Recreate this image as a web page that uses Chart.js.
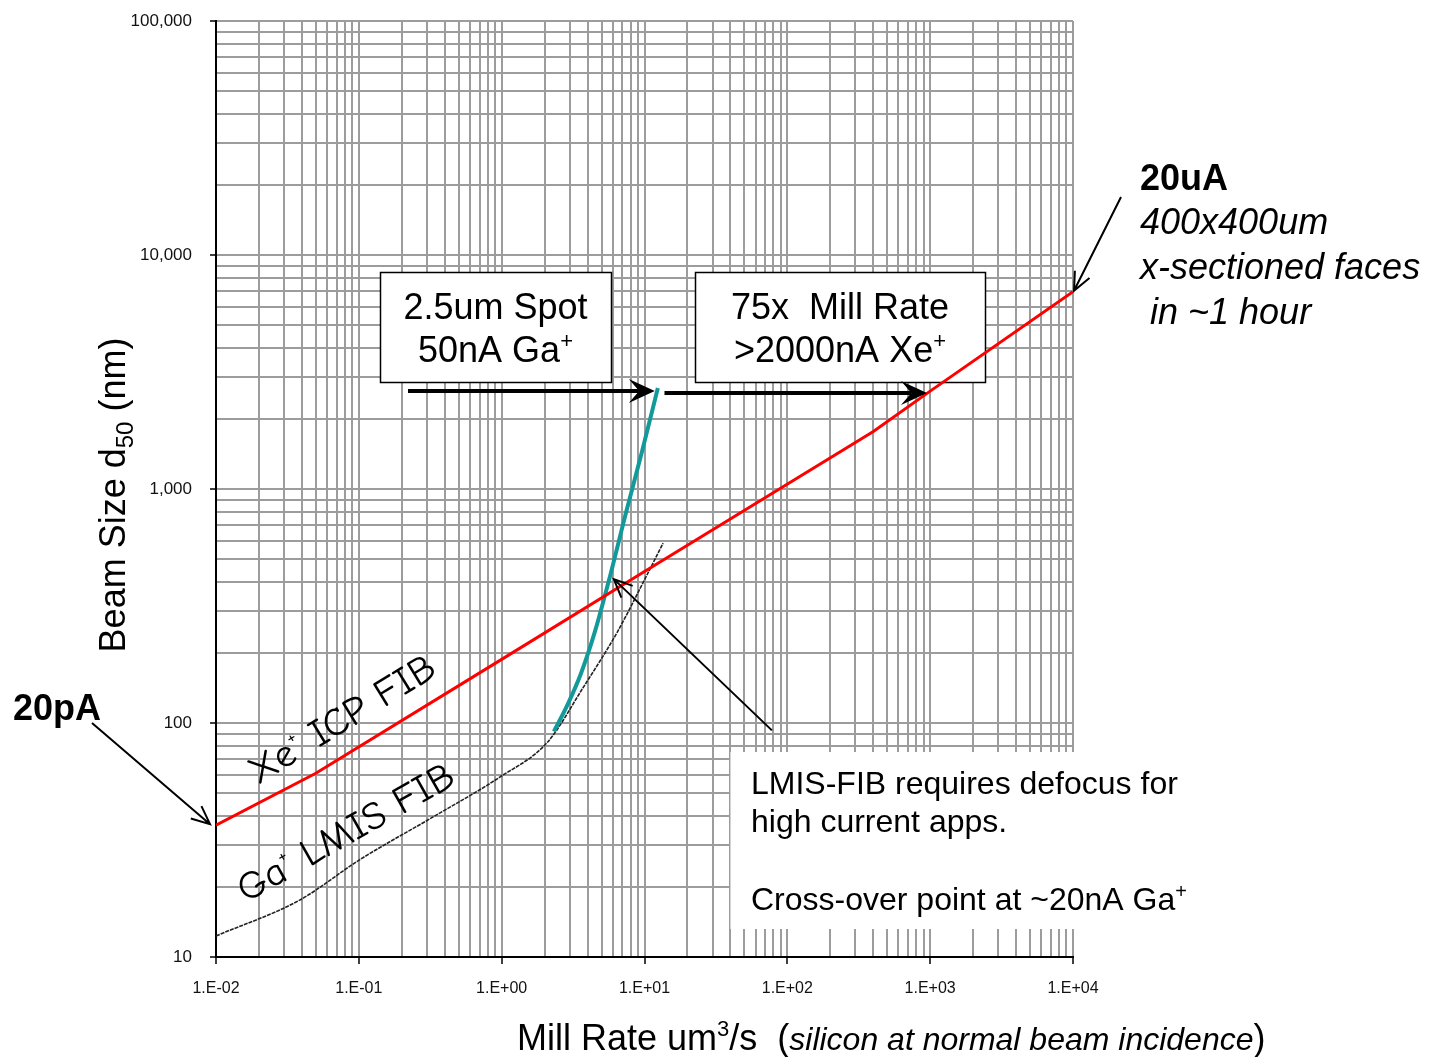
<!DOCTYPE html>
<html>
<head>
<meta charset="utf-8">
<script src="https://cdn.jsdelivr.net/npm/chart.js@4.4.1/dist/chart.umd.min.js"></script>
<style>
  html, body { margin: 0; padding: 0; background: #fff; }
</style>
</head>
<body>
<canvas id="millChart" width="1435" height="1057"></canvas>
<script>
// values
const xeMillRate = [0.01, 0.05, 1, 10, 400, 1000, 10000];
const xeBeamSize = [36.6, 61, 187, 444, 1760, 2620, 6970];

const gaSpotMillRate = [2.32, 2.86, 3.58, 4.49, 5.72, 7.41, 9.59, 12.4];
const gaSpotBeamSize = [92, 118, 162, 245, 421, 790, 1440, 2700];

const gaMillRate = [0.01, 0.0385, 0.101, 0.329, 0.97, 2.1, 3.7, 6.41, 10.4, 13.5];
const gaBeamSize = [12.3, 17.5, 26, 39.6, 58.7, 83, 141, 243, 429, 587];

const xTickLabels = ['1.E-02', '1.E-01', '1.E+00', '1.E+01', '1.E+02', '1.E+03', '1.E+04'];
const yTickLabels = ['10', '100', '1,000', '10,000', '100,000'];

const SANS = 'Arial, "Liberation Sans", sans-serif';
const HAND = '"Comic Sans MS", "Comic Neue", "DejaVu Sans", sans-serif';

const toPoints = (xs, ys) => xs.map((x, i) => ({ x: x, y: ys[i] }));

// 1..9 x 10^n ticks so every decade gets its minor grid lines
function logTicks(minExp, maxExp) {
  const t = [];
  for (let e = minExp; e < maxExp; e++) {
    for (let m = 1; m < 10; m++) t.push({ value: m * Math.pow(10, e), major: m === 1 });
  }
  t.push({ value: Math.pow(10, maxExp), major: true });
  return t;
}

function richWidth(ctx, parts) {
  let w = 0;
  parts.forEach(p => { ctx.font = p.font; w += ctx.measureText(p.t).width; });
  return w;
}
function richText(ctx, parts, x, y) {
  let cx = x;
  parts.forEach(p => {
    ctx.font = p.font;
    ctx.fillText(p.t, cx, y + (p.dy || 0));
    cx += ctx.measureText(p.t).width;
  });
}

// thick arrow with a notched filled head
function boldArrow(ctx, x1, y1, x2, y2) {
  const a = Math.atan2(y2 - y1, x2 - x1);
  const L = 26, W = 12;
  ctx.save();
  ctx.translate(x2, y2);
  ctx.rotate(a);
  ctx.fillStyle = '#000';
  ctx.strokeStyle = '#000';
  ctx.lineWidth = 4;
  const len = Math.hypot(x2 - x1, y2 - y1);
  ctx.beginPath();
  ctx.moveTo(-len, 0);
  ctx.lineTo(-L * 0.6, 0);
  ctx.stroke();
  ctx.beginPath();
  ctx.moveTo(0, 0);
  ctx.lineTo(-L, -W);
  ctx.lineTo(-L * 0.6, 0);
  ctx.lineTo(-L, W);
  ctx.closePath();
  ctx.fill();
  ctx.restore();
}

// thin arrow with an open V head
function thinArrow(ctx, x1, y1, x2, y2) {
  const a = Math.atan2(y2 - y1, x2 - x1);
  const L = 20, spread = 0.42;
  ctx.save();
  ctx.strokeStyle = '#000';
  ctx.lineWidth = 2;
  ctx.beginPath();
  ctx.moveTo(x1, y1);
  ctx.lineTo(x2, y2);
  ctx.moveTo(x2 - L * Math.cos(a - spread), y2 - L * Math.sin(a - spread));
  ctx.lineTo(x2, y2);
  ctx.lineTo(x2 - L * Math.cos(a + spread), y2 - L * Math.sin(a + spread));
  ctx.stroke();
  ctx.restore();
}

function slantLabel(ctx, x, y, deg, len, head, rest) {
  const size = 39;
  const parts = [
    { t: head, font: size + 'px ' + HAND },
    { t: '+', font: Math.round(size * 0.5) + 'px ' + HAND, dy: -size * 0.45 },
    { t: rest, font: size + 'px ' + HAND }
  ];
  ctx.save();
  ctx.fillStyle = '#000';
  ctx.textBaseline = 'alphabetic';
  ctx.translate(x, y);
  ctx.rotate(-deg * Math.PI / 180);
  const w = richWidth(ctx, parts);
  ctx.scale(len / w, 1);
  richText(ctx, parts, 0, 0);
  ctx.restore();
}

function boxWithText(ctx, x, y, w, h, lines) {
  ctx.save();
  ctx.fillStyle = '#fff';
  ctx.fillRect(x, y, w, h);
  ctx.strokeStyle = '#000';
  ctx.lineWidth = 1.5;
  ctx.strokeRect(x + 0.5, y + 0.5, w, h);
  ctx.fillStyle = '#000';
  ctx.textBaseline = 'alphabetic';
  lines.forEach(l => {
    const tw = richWidth(ctx, l.parts);
    richText(ctx, l.parts, x + w / 2 - tw / 2, l.base);
  });
  ctx.restore();
}

const annotations = {
  id: 'annotations',
  beforeDatasetsDraw(chart) {
    const ctx = chart.ctx;
    const big = '36px ' + SANS, sup = '22px ' + SANS;
    boxWithText(ctx, 380, 272, 231, 110, [
      { base: 319, parts: [{ t: '2.5um Spot', font: big }] },
      { base: 362, parts: [{ t: '50nA Ga', font: big }, { t: '+', font: sup, dy: -14 }] }
    ]);
    boxWithText(ctx, 695, 272, 290, 110, [
      { base: 319, parts: [{ t: '75x  Mill Rate', font: big }] },
      { base: 362, parts: [{ t: '>2000nA Xe', font: big }, { t: '+', font: sup, dy: -14 }] }
    ]);

    // note panel in the lower right
    ctx.save();
    ctx.fillStyle = '#fff';
    ctx.fillRect(730, 752, 480, 177);
    ctx.strokeStyle = '#d4d4d4';
    ctx.lineWidth = 1;
    ctx.beginPath();
    ctx.moveTo(730.5, 752);
    ctx.lineTo(730.5, 929);
    ctx.stroke();
    ctx.fillStyle = '#000';
    const f = '32px ' + SANS;
    richText(ctx, [{ t: 'LMIS-FIB requires defocus for', font: f }], 751, 794);
    richText(ctx, [{ t: 'high current apps.', font: f }], 751, 832);
    richText(ctx, [{ t: 'Cross-over point at ~20nA Ga', font: f }, { t: '+', font: '20px ' + SANS, dy: -12 }], 751, 910);
    ctx.restore();
  },
  afterDatasetsDraw(chart) {
    const ctx = chart.ctx;
    const xs = chart.scales.x, ys = chart.scales.y;
    const P = (x, y) => [xs.getPixelForValue(x), ys.getPixelForValue(y)];

    // arrows
    const a1 = P(11.8, 2620);
    boldArrow(ctx, 408, a1[1], a1[0], a1[1]);
    const a2s = P(13.8, 2570), a2e = P(950, 2570);
    boldArrow(ctx, a2s[0], a2s[1], a2e[0], a2e[1]);
    const a3s = P(78, 93), a3e = P(6.1, 412);
    thinArrow(ctx, a3s[0], a3s[1], a3e[0], a3e[1]);
    const xeStart = P(xeMillRate[0], xeBeamSize[0]);
    thinArrow(ctx, 92, 723, xeStart[0] - 6, xeStart[1] - 1);
    const xeEnd = P(xeMillRate[xeMillRate.length - 1], xeBeamSize[xeBeamSize.length - 1]);
    thinArrow(ctx, 1121, 197, xeEnd[0] + 1, xeEnd[1] - 1);

    // curve names
    slantLabel(ctx, 258, 785, 31.5, 212, 'Xe', ' ICP FIB');
    slantLabel(ctx, 246, 903, 29.5, 243, 'Ga', ' LMIS FIB');

    ctx.save();
    ctx.fillStyle = '#000';
    ctx.textBaseline = 'alphabetic';
    ctx.font = 'bold 36px ' + SANS;
    ctx.fillText('20pA', 13, 720);
    ctx.fillText('20uA', 1140, 190);
    ctx.font = 'italic 36px ' + SANS;
    ctx.fillText('400x400um', 1140, 234);
    ctx.fillText('x-sectioned faces', 1140, 279);
    ctx.fillText(' in ~1 hour', 1140, 324);
    ctx.restore();
  },
  afterDraw(chart) {
    const ctx = chart.ctx;
    ctx.save();
    ctx.fillStyle = '#000';
    ctx.textBaseline = 'alphabetic';
    // y axis title
    const yParts = [
      { t: 'Beam Size d', font: '36px ' + SANS },
      { t: '50', font: '24px ' + SANS, dy: 8 },
      { t: ' (nm)', font: '36px ' + SANS }
    ];
    ctx.translate(125, 495);
    ctx.rotate(-Math.PI / 2);
    richText(ctx, yParts, -richWidth(ctx, yParts) / 2, 0);
    ctx.restore();

    ctx.save();
    ctx.fillStyle = '#000';
    ctx.textBaseline = 'alphabetic';
    richText(ctx, [
      { t: 'Mill Rate um', font: '36px ' + SANS },
      { t: '3', font: '22px ' + SANS, dy: -14 },
      { t: '/s  (', font: '36px ' + SANS },
      { t: 'silicon at normal beam incidence', font: 'italic 32px ' + SANS },
      { t: ')', font: '36px ' + SANS }
    ], 517, 1050);
    ctx.restore();
  }
};

const gridColor = '#9c9c9c';
const majorTick = c => (c.tick && c.tick.major) ? '#000' : 'rgba(0,0,0,0)';

new Chart(document.getElementById('millChart'), {
  type: 'line',
  data: {
    datasets: [
      {
        label: 'Xe+ ICP FIB',
        data: toPoints(xeMillRate, xeBeamSize),
        borderColor: '#ff0000',
        borderWidth: 3,
        pointRadius: 0,
        tension: 0
      },
      {
        label: '2.5um spot Ga+',
        data: toPoints(gaSpotMillRate, gaSpotBeamSize),
        borderColor: '#12999a',
        borderWidth: 4,
        pointRadius: 0,
        cubicInterpolationMode: 'monotone'
      },
      {
        label: 'Ga+ LMIS FIB',
        data: toPoints(gaMillRate, gaBeamSize),
        borderColor: '#222',
        borderWidth: 1.6,
        borderDash: [4, 1],
        pointRadius: 0,
        cubicInterpolationMode: 'monotone'
      }
    ]
  },
  options: {
    responsive: false,
    devicePixelRatio: 1,
    animation: false,
    layout: { padding: { top: 21, right: 362, left: 0, bottom: 0 } },
    plugins: { legend: { display: false }, tooltip: { enabled: false } },
    scales: {
      x: {
        type: 'logarithmic',
        min: 0.01,
        max: 10000,
        afterBuildTicks: s => { s.ticks = logTicks(-2, 4); },
        afterFit: s => { s.height = 100; },
        grid: { color: gridColor, lineWidth: 2, tickLength: 7, tickWidth: 1.5, tickColor: majorTick },
        border: { color: '#000', width: 2 },
        ticks: {
          autoSkip: false, maxRotation: 0, minRotation: 0, padding: 15, color: '#111',
          font: { family: SANS, size: 16 },
          callback: (v, i, t) => t[i].major ? xTickLabels[Math.round(Math.log10(v)) + 2] : ''
        }
      },
      y: {
        type: 'logarithmic',
        min: 10,
        max: 100000,
        afterBuildTicks: s => { s.ticks = logTicks(1, 5); },
        afterFit: s => { s.width = 216; s.paddingTop = 0; s.paddingBottom = 0; },
        grid: { color: gridColor, lineWidth: 2, tickLength: 6, tickWidth: 1.5, tickColor: majorTick },
        border: { color: '#000', width: 2 },
        ticks: {
          autoSkip: false, padding: 18, color: '#111',
          font: { family: SANS, size: 17 },
          callback: (v, i, t) => t[i].major ? yTickLabels[Math.round(Math.log10(v)) - 1] : ''
        }
      }
    }
  },
  plugins: [annotations]
});
</script>
</body>
</html>
